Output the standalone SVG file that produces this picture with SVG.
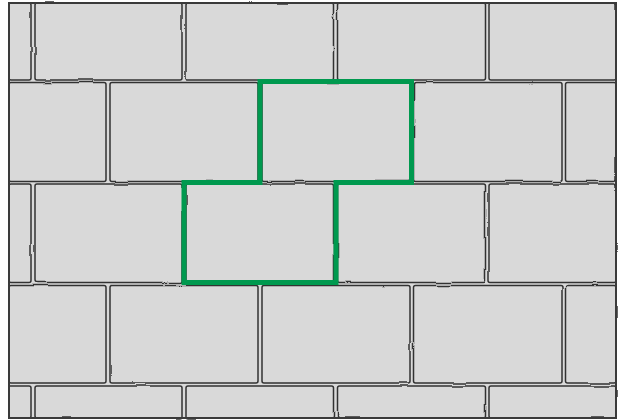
<svg xmlns="http://www.w3.org/2000/svg" width="618" height="420" viewBox="0 0 618 420">
<defs>
<filter id="wob" x="-5%" y="-5%" width="110%" height="110%">
<feTurbulence type="fractalNoise" baseFrequency="0.03" numOctaves="1" seed="5" result="n"/>
<feDisplacementMap in="SourceGraphic" in2="n" scale="2.5" xChannelSelector="R" yChannelSelector="G"/>
</filter>
<style>
.b{fill:#d9d9d9;stroke:#333;stroke-width:1.5}
.frame{fill:none;stroke:#3a3a3a;stroke-width:2}
.hl{fill:none;stroke:#00994f;stroke-width:5;stroke-linejoin:miter}
</style>
</defs>
<rect x="0" y="0" width="618" height="420" fill="#fff"/>
<rect x="9" y="3" width="607" height="415" fill="#d9d9d9"/>
<g id="wall" filter="url(#wob)">
<g id="row1">
<rect class="b" x="9" y="3" width="22" height="77" rx="2"/>
<rect class="b" x="35" y="3" width="147" height="77" rx="2"/>
<rect class="b" x="186" y="3" width="147.5" height="77" rx="2"/>
<rect class="b" x="337.5" y="3" width="148" height="77" rx="2"/>
<rect class="b" x="489" y="3" width="127" height="77" rx="2"/>
</g>
<g id="row2">
<rect class="b" x="9" y="82.5" width="97" height="99" rx="2"/>
<rect class="b" x="110" y="82.5" width="148" height="99" rx="2"/>
<rect class="b" x="262" y="82.5" width="148" height="99" rx="2"/>
<rect class="b" x="413.5" y="82.5" width="148.5" height="99" rx="2"/>
<rect class="b" x="565.5" y="82.5" width="50.5" height="99" rx="2"/>
</g>
<g id="row3">
<rect class="b" x="9" y="184" width="22" height="98.5" rx="2"/>
<rect class="b" x="35" y="184" width="147" height="98.5" rx="2"/>
<rect class="b" x="186" y="184" width="147.5" height="98.5" rx="2"/>
<rect class="b" x="337.5" y="184" width="148" height="98.5" rx="2"/>
<rect class="b" x="489" y="184" width="127" height="98.5" rx="2"/>
</g>
<g id="row4">
<rect class="b" x="9" y="285.5" width="97" height="97.5" rx="2"/>
<rect class="b" x="110" y="285.5" width="148" height="97.5" rx="2"/>
<rect class="b" x="262" y="285.5" width="148" height="97.5" rx="2"/>
<rect class="b" x="413.5" y="285.5" width="148.5" height="97.5" rx="2"/>
<rect class="b" x="565.5" y="285.5" width="50.5" height="97.5" rx="2"/>
</g>
<g id="row5">
<rect class="b" x="9" y="386" width="22" height="32" rx="2"/>
<rect class="b" x="35" y="386" width="147" height="32" rx="2"/>
<rect class="b" x="186" y="386" width="147.5" height="32" rx="2"/>
<rect class="b" x="337.5" y="386" width="148" height="32" rx="2"/>
<rect class="b" x="489" y="386" width="127" height="32" rx="2"/>
</g>
</g>
<rect id="frame" class="frame" x="9" y="3" width="607" height="415"/>
<g id="highlight">
<path class="hl" d="M260,81.5 H411.5 V182.5 H336 V282.5 H184 V182.5 H260 Z"/>
</g>
</svg>
